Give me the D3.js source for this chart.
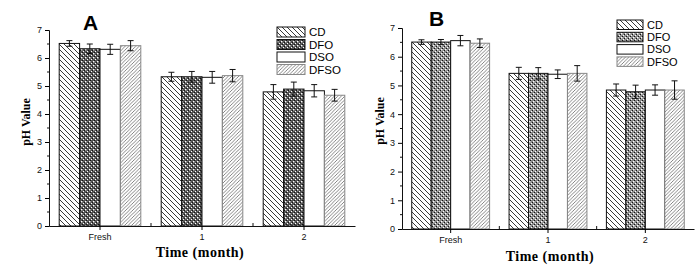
<!DOCTYPE html>
<html><head><meta charset="utf-8">
<script src="https://cdn.jsdelivr.net/npm/d3@7"></script>
<style>body{margin:0;background:#fff}svg{display:block}</style>
</head><body>
<svg id="c" width="700" height="270"></svg>
<script>
const categories = ["Fresh", "1", "2"];
const seriesNames = ["CD", "DFO", "DSO", "DFSO"];
const yTicks = [0, 1, 2, 3, 4, 5, 6, 7];
// Panel A values [series][category]
const valuesA = [
  [6.52, 5.33, 4.79],
  [6.33, 5.33, 4.89],
  [6.31, 5.31, 4.83],
  [6.44, 5.37, 4.67]
];
const errorsA = [
  [0.10, 0.16, 0.26],
  [0.17, 0.19, 0.25],
  [0.18, 0.21, 0.22],
  [0.18, 0.22, 0.21]
];
// Panel B values
const valuesB = [
  [6.51, 5.42, 4.84],
  [6.51, 5.42, 4.78],
  [6.56, 5.39, 4.84],
  [6.47, 5.42, 4.84]
];
const errorsB = [
  [0.08, 0.21, 0.21],
  [0.09, 0.20, 0.23],
  [0.18, 0.15, 0.18],
  [0.15, 0.27, 0.32]
];

const svg = d3.select("#c");
const defs = svg.append("defs");

function makePatterns(id, grayDFO) {
  const p1 = defs.append("pattern").attr("id", "cd" + id).attr("patternUnits", "userSpaceOnUse")
    .attr("width", 5).attr("height", 5);
  p1.append("rect").attr("width", 5).attr("height", 5).attr("fill", "#fff");
  p1.append("path").attr("d", "M-1,-1L6,6M-1,4L1,6M4,-1L6,1").attr("stroke", "#222").attr("stroke-width", 0.9);

  const p2 = defs.append("pattern").attr("id", "dfo" + id).attr("patternUnits", "userSpaceOnUse")
    .attr("width", 4).attr("height", 4);
  p2.append("rect").attr("width", 4).attr("height", 4).attr("fill", grayDFO ? "#8a8a8a" : "#555");
  p2.append("rect").attr("x", 1).attr("y", 1).attr("width", 1.4).attr("height", 1.4).attr("fill", "#fff");
  p2.append("rect").attr("x", 3).attr("y", 3).attr("width", 1.4).attr("height", 1.4).attr("fill", "#fff");
  p2.append("rect").attr("x", 0).attr("y", 2).attr("width", 1).attr("height", 1).attr("fill", "#111");
  p2.append("rect").attr("x", 2).attr("y", 0).attr("width", 1).attr("height", 1).attr("fill", "#111");

  const p4 = defs.append("pattern").attr("id", "dfso" + id).attr("patternUnits", "userSpaceOnUse")
    .attr("width", 3.5).attr("height", 3.5);
  p4.append("rect").attr("width", 3.5).attr("height", 3.5).attr("fill", "#fff");
  p4.append("path").attr("d", "M-1,4.5L4.5,-1M-1,1L1,-1M2.5,4.5L4.5,2.5").attr("stroke", "#666").attr("stroke-width", 0.8);
}
makePatterns("A", false);
makePatterns("B", true);

function fills(id) {
  return ["url(#cd" + id + ")", "url(#dfo" + id + ")", "#fff", "url(#dfso" + id + ")"];
}
const strokes = ["#111", "#111", "#111", "#888"];

function drawPanel(cfg) {
  const g = svg.append("g");
  const x = d3.scaleBand().domain(categories).range([cfg.x0, cfg.x1]).paddingInner(0).paddingOuter(0);
  const y = d3.scaleLinear().domain([0, 7]).range([cfg.y0, cfg.y7]);
  const inner = d3.scaleBand().domain(seriesNames).range([0, x.bandwidth() * 0.8]);
  const off = x.bandwidth() * 0.1;
  const f = fills(cfg.id);

  // bars
  seriesNames.forEach((s, si) => {
    categories.forEach((c, ci) => {
      const v = cfg.values[si][ci];
      g.append("rect")
        .attr("x", x(c) + off + inner(s))
        .attr("y", y(v))
        .attr("width", inner.bandwidth())
        .attr("height", y(0) - y(v))
        .attr("fill", f[si])
        .attr("stroke", strokes[si])
        .attr("stroke-width", 1);
    });
  });
  // error bars
  seriesNames.forEach((s, si) => {
    categories.forEach((c, ci) => {
      const v = cfg.values[si][ci], e = cfg.errors[si][ci];
      const cx = x(c) + off + inner(s) + inner.bandwidth() / 2;
      g.append("path")
        .attr("d", `M${cx},${y(v - e)}V${y(v + e)}M${cx - 3},${y(v + e)}H${cx + 3}M${cx - 3},${y(v - e)}H${cx + 3}`)
        .attr("stroke", "#111").attr("stroke-width", 1).attr("fill", "none");
    });
  });

  // y axis
  const ya = g.append("g").attr("transform", `translate(${cfg.x0},0)`)
    .call(d3.axisLeft(y).tickValues(yTicks).tickSize(4).tickPadding(3).tickFormat(d3.format("d")));
  ya.select(".domain").attr("stroke", "#111");
  ya.selectAll("text").attr("font-family", "Liberation Sans, Arial, sans-serif").attr("font-size", 9).attr("fill", "#111");
  const minor = d3.range(0.5, 7, 1);
  g.append("g").selectAll("line").data(minor).join("line")
    .attr("x1", cfg.x0 - 2).attr("x2", cfg.x0).attr("y1", d => y(d)).attr("y2", d => y(d))
    .attr("stroke", "#111");

  // x axis
  const xa = g.append("g").attr("transform", `translate(0,${cfg.y0})`)
    .call(d3.axisBottom(x).tickSize(4).tickPadding(4).tickSizeOuter(0));
  xa.select(".domain").attr("stroke", "#111");
  xa.selectAll("text").attr("font-family", "Liberation Sans, Arial, sans-serif").attr("font-size", 9).attr("fill", "#111");
  g.append("g").selectAll("line").data(categories.slice(1)).join("line")
    .attr("x1", d => x(d)).attr("x2", d => x(d)).attr("y1", cfg.y0 - 3).attr("y2", cfg.y0 + 1)
    .attr("stroke", "#111");

  // axis titles
  g.append("text").attr("transform", `translate(${cfg.ylx},${cfg.yly}) rotate(-90)`)
    .attr("text-anchor", "middle").attr("font-family", "Liberation Serif, Times New Roman, serif")
    .attr("font-weight", "bold").attr("font-size", 12).text("pH Value");
  g.append("text").attr("x", cfg.xlx).attr("y", cfg.xly)
    .attr("text-anchor", "middle").attr("font-family", "Liberation Serif, Times New Roman, serif")
    .attr("font-weight", "bold").attr("font-size", 14).attr("letter-spacing", 0.5).text("Time (month)");

  // panel letter
  g.append("text").attr("x", cfg.tx).attr("y", cfg.ty)
    .attr("font-family", "Liberation Sans, Arial, sans-serif").attr("font-weight", "bold")
    .attr("font-size", 21).text(cfg.id);

  // legend
  seriesNames.forEach((s, si) => {
    const ly = cfg.ly + si * cfg.lstep;
    g.append("rect").attr("x", cfg.lx).attr("y", ly).attr("width", cfg.lw).attr("height", cfg.lh)
      .attr("fill", f[si]).attr("stroke", strokes[si]);
    g.append("text").attr("x", cfg.lx + cfg.lw + 4).attr("y", ly + cfg.lh / 2 + 4)
      .attr("font-family", "Liberation Sans, Arial, sans-serif").attr("font-size", cfg.lfs).text(s);
  });
}

drawPanel({id: "A", values: valuesA, errors: errorsA, x0: 49, x1: 355, y0: 226, y7: 30,
  ylx: 30, yly: 122, xlx: 200, xly: 257, tx: 83, ty: 30,
  lx: 277, ly: 27, lstep: 12.5, lw: 28, lh: 10, lfs: 11.5});
drawPanel({id: "B", values: valuesB, errors: errorsB, x0: 402, x1: 694, y0: 229, y7: 28,
  ylx: 384, yly: 121, xlx: 550, xly: 261, tx: 429, ty: 26,
  lx: 617, ly: 20, lstep: 12.3, lw: 26, lh: 9.5, lfs: 11});
</script>
</body></html>
